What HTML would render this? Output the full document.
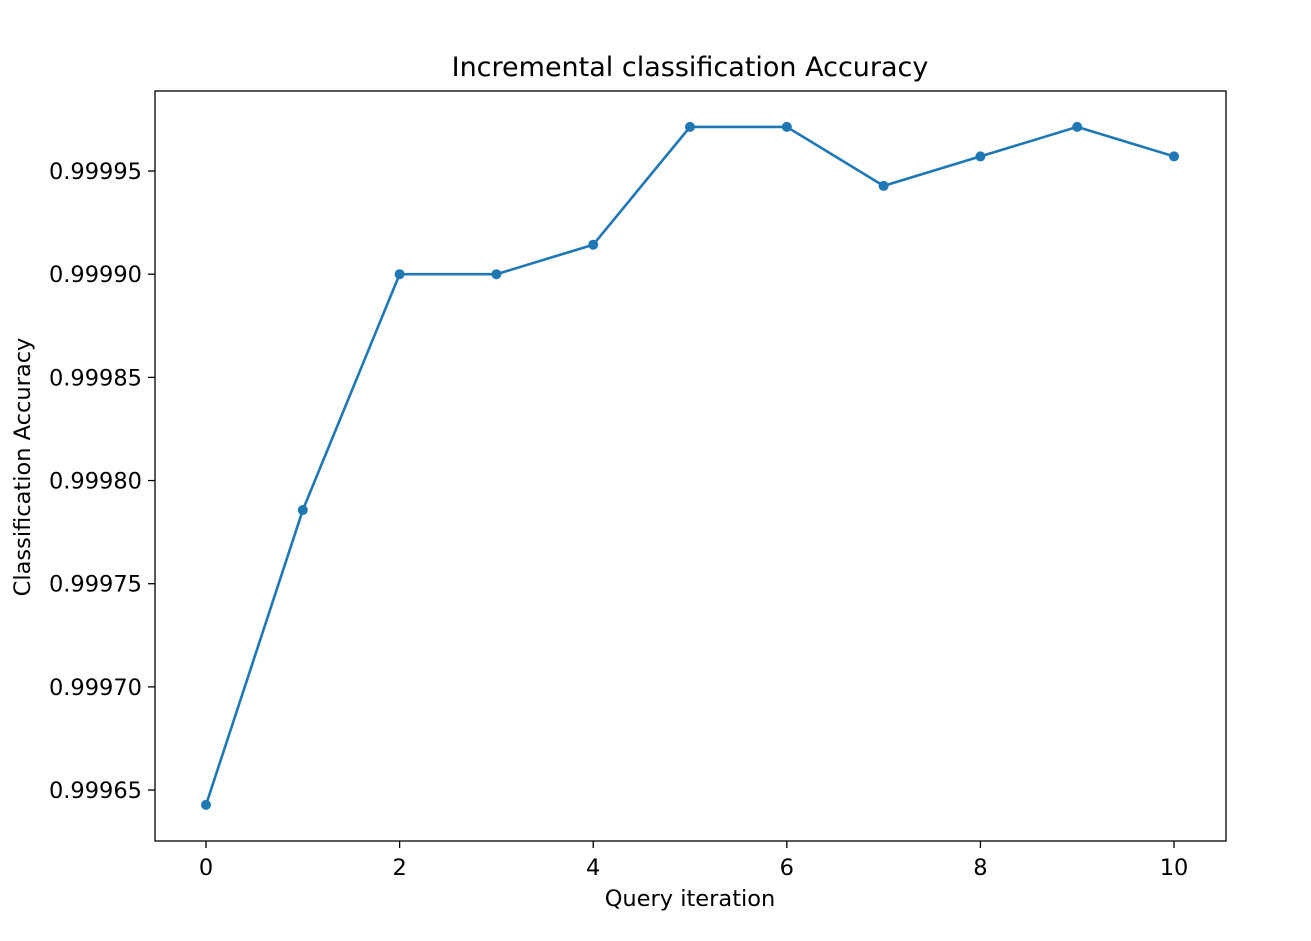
<!DOCTYPE html>
<html><head><meta charset="utf-8"><style>
body{margin:0;background:#fff;}
svg text{font-family:"DejaVu Sans","Liberation Sans",sans-serif;fill:#000;}
</style></head><body>
<svg id="chart" width="1311" height="936" viewBox="0 0 1311 936" xmlns="http://www.w3.org/2000/svg">
<rect width="1311" height="936" fill="#fff"/>
<text x="690" y="76" font-size="27" text-anchor="middle">Incremental classification Accuracy</text>
<text x="690" y="906" font-size="22.5" text-anchor="middle">Query iteration</text>
<text transform="translate(30,467) rotate(-90)" font-size="22.5" text-anchor="middle">Classification Accuracy</text>
<g id="ticks"></g>
<g id="series"></g>
<rect x="155" y="91" width="1071" height="750" fill="none" stroke="#000" stroke-width="1.3"/>
</svg>
<script>
const iterations=[0,1,2,3,4,5,6,7,8,9,10];
const accuracy=[0.9996428,0.9997857,0.99990,0.99990,0.9999143,0.9999714,0.9999714,0.9999428,0.9999571,0.9999714,0.9999571];
const xTicks=[0,2,4,6,8,10];
const yTicks=[0.99965,0.99970,0.99975,0.99980,0.99985,0.99990,0.99995];
const yTickLabels=["0.99965","0.99970","0.99975","0.99980","0.99985","0.99990","0.99995"];
const L=155,R=1226,T=91,B=841;
const xMin=-0.527,xMax=10.537,yMin=0.9996253,yMax=0.9999888;
const sx=v=>L+(v-xMin)/(xMax-xMin)*(R-L);
const sy=v=>B-(v-yMin)/(yMax-yMin)*(B-T);
const NS="http://www.w3.org/2000/svg";
const tg=document.getElementById('ticks'),sg=document.getElementById('series');
function mk(tag,attrs,parent){const e=document.createElementNS(NS,tag);for(const k in attrs)e.setAttribute(k,attrs[k]);parent.appendChild(e);return e;}
xTicks.forEach(t=>{
 const l=mk('line',{x1:sx(t),x2:sx(t),y1:B,y2:B+7,stroke:'#000','stroke-width':1.3},tg);
 
 
 const tx=mk('text',{x:sx(t),y:B+34,'font-size':22.5,'text-anchor':'middle'},tg);tx.textContent=t;
 
 
});
yTicks.forEach((t,i)=>{
 const l=mk('line',{x1:L-7,x2:L,y1:sy(t),y2:sy(t),stroke:'#000','stroke-width':1.3},tg);
 
 
 const tx=mk('text',{x:L-13,y:sy(t)+8,'font-size':22.5,'text-anchor':'end'},tg);tx.textContent=yTickLabels[i];
 
 
});
const pts=iterations.map((x,i)=>sx(x)+','+sy(accuracy[i])).join(' ');
const pl=mk('polyline',{points:pts,fill:'none',stroke:'#1f77b4','stroke-width':2.6,'stroke-linejoin':'round'},sg);


iterations.forEach((x,i)=>{
 const c=mk('circle',{cx:sx(x),cy:sy(accuracy[i]),r:5,fill:'#1f77b4'},sg);
 
 
});
</script>
</body></html>
